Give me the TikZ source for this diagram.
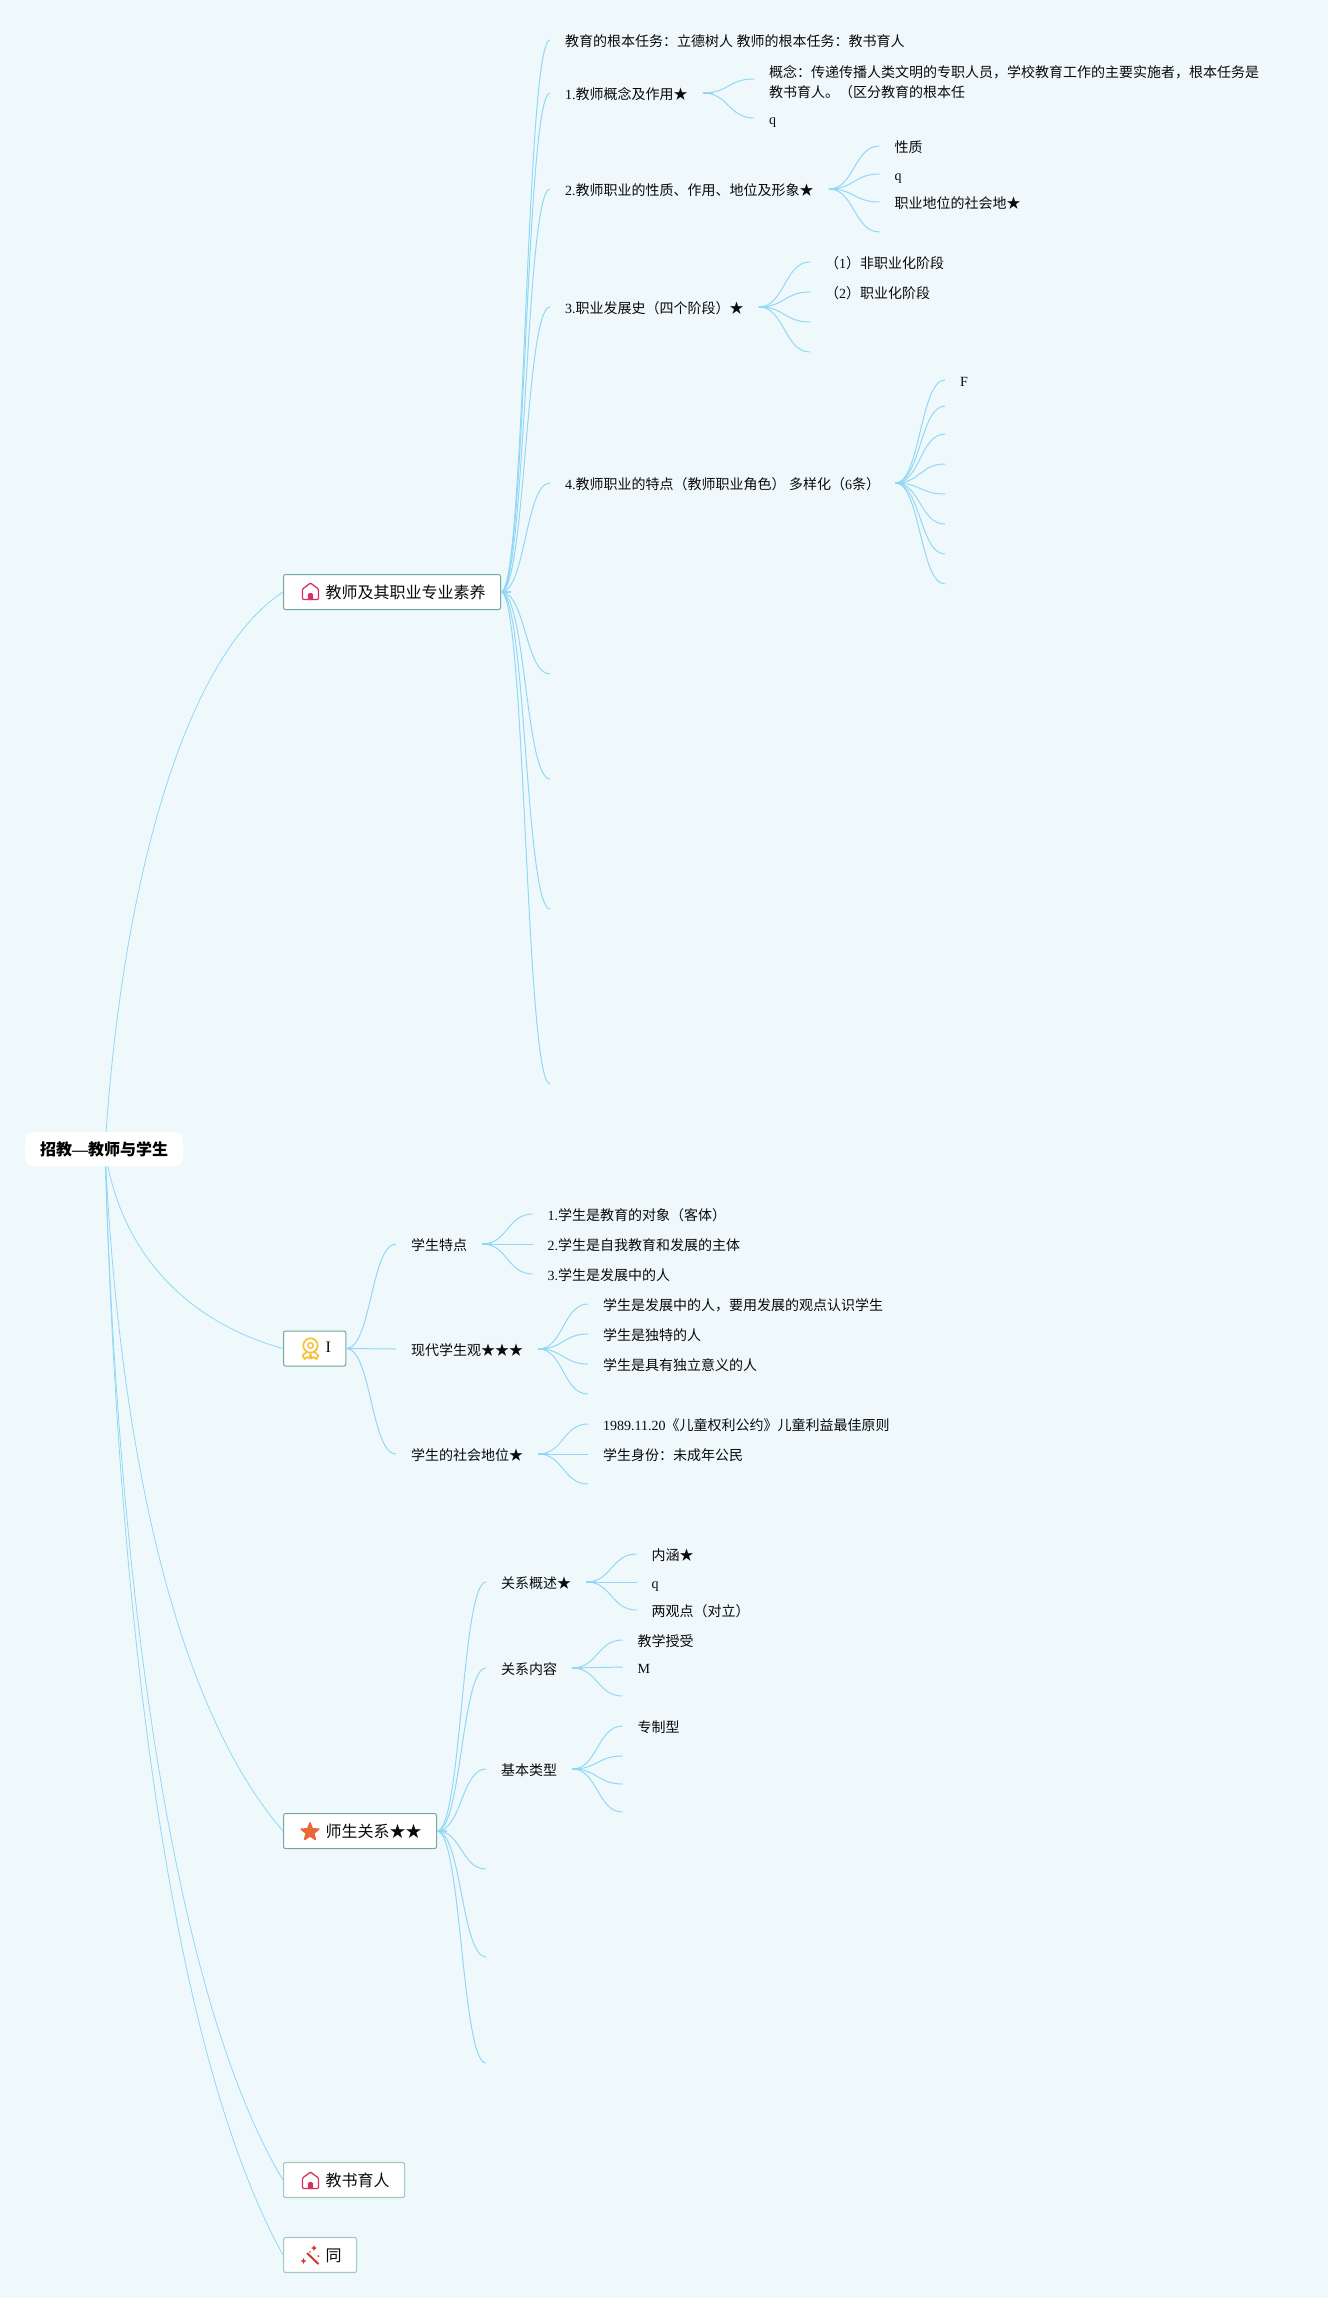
\documentclass[tikz,border=0pt]{standalone}
\usepackage{fontspec}
\usetikzlibrary{calc}
\setmainfont{Liberation Serif}
\newfontfamily\cjk{Noto Sans CJK SC}
\newcommand{\C}[1]{{\cjk #1}}
\definecolor{bgc}{HTML}{EFF9FC}
\definecolor{linec}{HTML}{92D7F5}
\definecolor{borderA}{HTML}{74A79F}
\definecolor{borderB}{HTML}{A6C9C5}
\definecolor{housec}{HTML}{DE2F63}
\definecolor{medalc}{HTML}{F6C138}
\definecolor{starc}{HTML}{E8683A}
\definecolor{wandc}{HTML}{CC3A34}
\definecolor{inkc}{HTML}{0A0A0A}
\tikzset{
  conn/.style={draw=linec,line width=1pt},
  thin conn/.style={draw=linec,line width=0.8pt},
  stub/.style={draw=linec,line width=1.9pt},
  leaf/.style={anchor=west,inner xsep=15pt,inner ysep=0pt,text=inkc,
    font=\fontsize{14}{20}\selectfont,text height=14pt,text depth=0.6pt},
  multi/.style={anchor=west,inner xsep=15pt,inner ysep=0pt,text=inkc,
    font=\fontsize{14}{20}\selectfont,align=left},
  branch/.style={anchor=west,rectangle,rounded corners=2pt,fill=white,text=inkc,
    inner xsep=15pt,inner ysep=0pt,minimum height=35pt,
    font=\fontsize{16}{20}\selectfont,text height=14pt,text depth=0.4pt},
  branchA/.style={branch,draw=borderA,line width=1pt},
  branchB/.style={branch,draw=borderB,line width=1.2pt},
  rootbox/.style={rectangle,rounded corners=8pt,fill=white,text=black,
    minimum width=158pt,minimum height=34pt,inner sep=0pt,
    font=\fontsize{16}{20}\selectfont\bfseries,text height=14pt,text depth=0.4pt},
}
\newcommand{\conn}[2]{%
  \draw[conn] (#1) .. controls ($(#1)!.5!(#2|-#1)$) and ($(#2)!.5!(#1|-#2)$) .. (#2);%
  \draw[stub] (#1) -- ($(#1)+(10,0)$);}
\newcommand{\housei}[2]{%
  \begin{scope}[shift={(#1,#2)}]
    \draw[housec,line width=1.3pt,line join=round,rounded corners=1pt]
      (-8,-2) -- (0,-8) -- (8,-2) -- (8,8.5) -- (-8,8.5) -- cycle;
    \fill[housec,rounded corners=1.5pt] (-2.6,9) -- (-2.6,2) -- (2.6,2) -- (2.6,9) -- cycle;
  \end{scope}}
\begin{document}
\begin{tikzpicture}[x=1pt,y=-1pt]
\useasboundingbox (0,0) rectangle (1328,2298);
\fill[bgc] (0,0) rectangle (1328,2298);

% ---- nodes of the first branch
\node[branchA] (a) at (283,592) {\hspace*{27pt}\C{教师及其职业专业素养}};
\node[leaf] (a0) at (550,40) {\C{教育的根本任务：立德树人} \C{教师的根本任务：教书育人}};
\node[leaf] (a1) at (550,93) {1.\C{教师概念及作用★}};
\node[leaf] (a2) at (550,189) {2.\C{教师职业的性质、作用、地位及形象★}};
\node[leaf] (a3) at (550,307) {3.\C{职业发展史（四个阶段）★}};
\node[leaf] (a4) at (550,483) {4.\C{教师职业的特点（教师职业角色）} \C{多样化（}6\C{条）}};
\coordinate (a5) at (550,674);
\coordinate (a6) at (550,779);
\coordinate (a7) at (550,909);
\coordinate (a8) at (550,1084);
\node[multi] (a1a) at (754,82) {\C{概念：传递传播人类文明的专职人员，学校教育工作的主要实施者，根本任务是}\\\C{教书育人。（区分教育的根本任}};
\coordinate (a1ain) at (754,79);
\node[leaf] (a1b) at (754,118) {q};
\node[leaf] (a2a) at (879.5,146) {\C{性质}};
\node[leaf] (a2b) at (879.5,174) {q};
\node[leaf] (a2c) at (879.5,202) {\C{职业地位的社会地★}};
\coordinate (a2d) at (879.5,232);
\node[leaf] (a3a) at (810,262) {\C{（}1\C{）非职业化阶段}};
\node[leaf] (a3b) at (810,292) {\C{（}2\C{）职业化阶段}};
\coordinate (a3c) at (810,322);
\coordinate (a3d) at (810,352);
\node[leaf] (a4a) at (945,380) {F};
\coordinate (a4b) at (945,406);
\coordinate (a4c) at (945,434);
\coordinate (a4d) at (945,464);
\coordinate (a4e) at (945,494);
\coordinate (a4f) at (945,524);
\coordinate (a4g) at (945,554);
\coordinate (a4h) at (945,584);

% ---- second branch
\node[branchA] (b) at (283,1348.5) {\hspace*{27pt}\raisebox{3pt}{I}};
\node[leaf] (b1) at (396,1244) {\C{学生特点}};
\node[leaf] (b2) at (396,1349) {\C{现代学生观★★★}};
\node[leaf] (b3) at (396,1454) {\C{学生的社会地位★}};
\node[leaf] (b1a) at (532.5,1214) {1.\C{学生是教育的对象（客体）}};
\node[leaf] (b1b) at (532.5,1244) {2.\C{学生是自我教育和发展的主体}};
\node[leaf] (b1c) at (532.5,1274) {3.\C{学生是发展中的人}};
\node[leaf] (b2a) at (588,1304) {\C{学生是发展中的人，要用发展的观点认识学生}};
\node[leaf] (b2b) at (588,1334) {\C{学生是独特的人}};
\node[leaf] (b2c) at (588,1364) {\C{学生是具有独立意义的人}};
\coordinate (b2d) at (588,1394);
\node[leaf] (b3a) at (588,1424) {1989.11.20\C{《儿童权利公约》儿童利益最佳原则}};
\node[leaf] (b3b) at (588,1454) {\C{学生身份：未成年公民}};
\coordinate (b3c) at (588,1484);

% ---- third branch
\node[branchA] (c) at (283,1831) {\hspace*{27pt}\C{师生关系★★}};
\node[leaf] (c1) at (486,1582) {\C{关系概述★}};
\node[leaf] (c2) at (486,1668) {\C{关系内容}};
\node[leaf] (c3) at (486,1769) {\C{基本类型}};
\coordinate (c4) at (486,1869);
\coordinate (c5) at (486,1957);
\coordinate (c6) at (486,2063);
\node[leaf] (c1a) at (636.5,1554) {\C{内涵★}};
\node[leaf] (c1b) at (636.5,1582) {q};
\node[leaf] (c1c) at (636.5,1610) {\C{两观点（对立）}};
\node[leaf] (c2a) at (622.5,1640) {\C{教学授受}};
\node[leaf] (c2b) at (622.5,1667) {M};
\coordinate (c2c) at (622.5,1696);
\node[leaf] (c3a) at (622.5,1726) {\C{专制型}};
\coordinate (c3b) at (622.5,1756);
\coordinate (c3c) at (622.5,1784);
\coordinate (c3d) at (622.5,1812);

% ---- last two branches
\node[branchB] (d) at (283,2180) {\hspace*{27pt}\C{教书育人}};
\node[branchB] (e) at (283,2255) {\hspace*{27pt}\C{同}};

% ---- root connectors (drawn under the root box)
\coordinate (o) at (105,1149);
\draw[thin conn] (o) .. controls (120,900) and (180,660) .. (a.west);
\draw[thin conn] (o) .. controls (118,1245) and (180,1320) .. (b.west);
\draw[thin conn] (o) .. controls (118,1430) and (170,1700) .. (c.west);
\draw[thin conn] (o) .. controls (118,1600) and (175,2000) .. (d.west);
\draw[thin conn] (o) .. controls (118,1620) and (170,2050) .. (e.west);
\node[rootbox] (root) at (104,1149) {\C{招教}—\C{教师与学生}};

% ---- other connectors
\foreach \t in {a0,a1,a2,a3,a4}{\conn{a.east}{\t.west}}
\foreach \t in {a5,a6,a7,a8}{\conn{a.east}{\t}}
\conn{a1.east}{a1ain}
\conn{a1.east}{a1b.west}
\foreach \t in {a2a,a2b,a2c}{\conn{a2.east}{\t.west}}
\conn{a2.east}{a2d}
\foreach \t in {a3a,a3b}{\conn{a3.east}{\t.west}}
\foreach \t in {a3c,a3d}{\conn{a3.east}{\t}}
\conn{a4.east}{a4a.west}
\foreach \t in {a4b,a4c,a4d,a4e,a4f,a4g,a4h}{\conn{a4.east}{\t}}
\foreach \t in {b1,b2,b3}{\conn{b.east}{\t.west}}
\foreach \t in {b1a,b1b,b1c}{\conn{b1.east}{\t.west}}
\foreach \t in {b2a,b2b,b2c}{\conn{b2.east}{\t.west}}
\conn{b2.east}{b2d}
\foreach \t in {b3a,b3b}{\conn{b3.east}{\t.west}}
\conn{b3.east}{b3c}
\foreach \t in {c1,c2,c3}{\conn{c.east}{\t.west}}
\foreach \t in {c4,c5,c6}{\conn{c.east}{\t}}
\foreach \t in {c1a,c1b,c1c}{\conn{c1.east}{\t.west}}
\foreach \t in {c2a,c2b}{\conn{c2.east}{\t.west}}
\conn{c2.east}{c2c}
\conn{c3.east}{c3a.west}
\foreach \t in {c3b,c3c,c3d}{\conn{c3.east}{\t}}

% ---- icons
\housei{310.5}{591}
\housei{310.5}{2180}
% medal
\begin{scope}[shift={(310.5,1345.5)}]
  \draw[medalc,line width=1.7pt] (0,0) circle (7.2);
  \draw[medalc,line width=1.4pt] (0,0) circle (2.8);
  \draw[medalc,line width=1.7pt,line join=round] (-4,6.5) -- (-8,10) -- (-6,13.5) -- (-3.4,11.5) -- (-0.8,13) -- (0,8);
  \draw[medalc,line width=1.7pt,line join=round] (4,6.5) -- (8,10) -- (6,13.5) -- (3.4,11.5) -- (0.8,13) -- (0,8);
\end{scope}
% star (y axis points down here, so the tip is at 270 degrees)
\fill[starc,draw=starc,line width=1.6pt,line join=round,shift={(310,1832)}]
  (270:9.2) -- (306:3.9) -- (342:9.2) -- (18:3.9) -- (54:9.2) -- (90:3.9)
  -- (126:9.2) -- (162:3.9) -- (198:9.2) -- (234:3.9) -- cycle;
% wand
\draw[wandc,line width=2pt] (307,2253) -- (318.5,2264);
\begin{scope}[wandc]
  \fill (303.5,2258) -- (304.4,2260.1) -- (306.5,2261) -- (304.4,2261.9) -- (303.5,2264) -- (302.6,2261.9) -- (300.5,2261) -- (302.6,2260.1) -- cycle;
  \fill (314,2245) -- (314.9,2247.1) -- (317,2248) -- (314.9,2248.9) -- (314,2251) -- (313.1,2248.9) -- (311,2248) -- (313.1,2247.1) -- cycle;
  \fill (318.5,2256) circle (1);
  \fill (310,2252) circle (0.8);
\end{scope}
\end{tikzpicture}
\end{document}
